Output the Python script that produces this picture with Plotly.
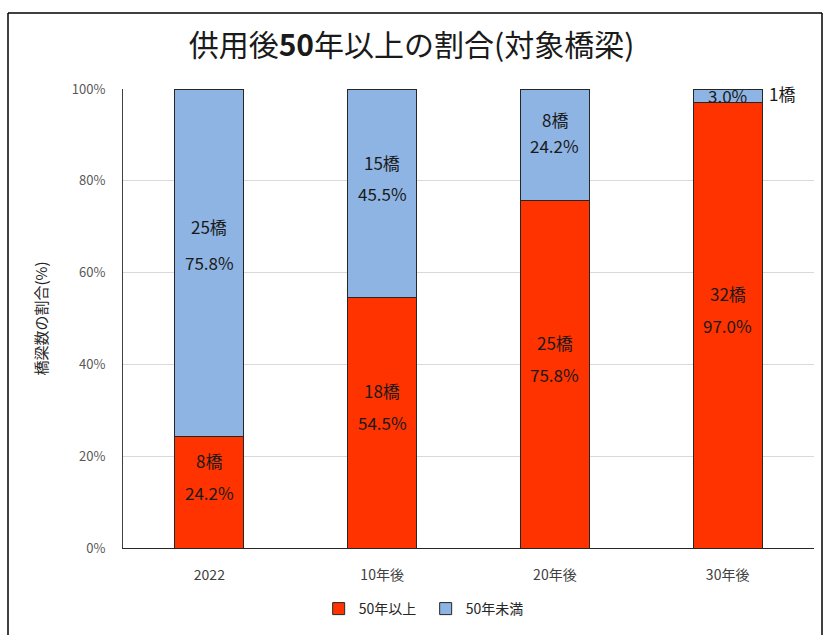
import plotly.graph_objects as go

categories = ["2022", "10年後", "20年後", "30年後"]
over50_pct = [24.2, 54.5, 75.8, 97.0]
under50_pct = [75.8, 45.5, 24.2, 3.0]
over50_cnt = [8, 18, 25, 32]
under50_cnt = [25, 15, 8, 1]
series_names = ["50年以上", "50年未満"]
yticks = [0, 20, 40, 60, 80, 100]

RED = "#FF3300"
BLUE = "#8EB4E3"
FONT = "Noto Sans CJK JP"

fig = go.Figure()
fig.add_bar(x=categories, y=over50_pct, name=series_names[0], marker_color=RED,
            marker_line_color="#262626", marker_line_width=1, width=0.4, hoverinfo="skip")
fig.add_bar(x=categories, y=under50_pct, name=series_names[1], marker_color=BLUE,
            marker_line_color="#262626", marker_line_width=1, width=0.4, hoverinfo="skip")

annotations = []
lab_font = dict(family=FONT, size=17, color="#1a1a1a")
# red segments
for i, (p, n) in enumerate(zip(over50_pct, over50_cnt)):
    ymid = p / 2
    annotations.append(dict(x=i, y=ymid, text=f"{p:.1f}%", showarrow=False, font=lab_font,
                            xref="x", yref="y"))
    annotations.append(dict(x=i, y=ymid, text=f"{n}橋", showarrow=False, font=lab_font,
                            xref="x", yref="y", yshift=32))
# blue segments
count_shift = [36, 31, 25, 0]
for i, (p, q, n) in enumerate(zip(over50_pct, under50_pct, under50_cnt)):
    ymid = p + q / 2
    annotations.append(dict(x=i, y=ymid, text=f"{q:.1f}%", showarrow=False, font=lab_font,
                            xref="x", yref="y", yshift=(-1 if i == 2 else 0)))
    if i < 3:
        annotations.append(dict(x=i, y=ymid, text=f"{n}橋", showarrow=False, font=lab_font,
                                xref="x", yref="y", yshift=count_shift[i]))
    else:
        annotations.append(dict(x=i, y=ymid, text=f"{n}橋", showarrow=False, font=lab_font,
                                xref="x", yref="y", xshift=54, yshift=2))

fig.update_layout(
    annotations=annotations,
    barmode="stack",
    width=823, height=635,
    margin=dict(l=123, r=9, t=89, b=87, autoexpand=False),
    paper_bgcolor="white", plot_bgcolor="white",
    font=dict(family=FONT, color="#404040"),
    title=dict(text="供用後<b>50</b>年以上の割合(対象橋梁)", x=0.5, xanchor="center",
               y=1 - 45 / 635, yanchor="middle",
               font=dict(family=FONT, size=30, color="#1a1a1a")),
    xaxis=dict(type="category", showline=True, linecolor="#262626", linewidth=1, ticks="",
               automargin=False, ticklabelstandoff=14,
               tickfont=dict(size=14, color="#404040", family=FONT), range=[-0.5, 3.5]),
    yaxis=dict(range=[0, 100], tickvals=yticks, ticktext=[f"{v}%" for v in yticks],
               showgrid=True, gridcolor="#D9D9D9", gridwidth=1, automargin=False,
               showline=True, linecolor="#404040", linewidth=1, zeroline=False,
               ticklabelstandoff=14,
               tickfont=dict(size=13, color="#595959", family=FONT),
               title=dict(text="橋梁数の割合(%)", font=dict(size=15, color="#262626", family=FONT),
                          standoff=20)),
    legend=dict(orientation="h", x=0.438, xanchor="center", y=(548 - 609) / 459, yanchor="middle",
                font=dict(size=14, color="#262626", family=FONT),
                traceorder="normal", entrywidth=62, entrywidthmode="pixels", itemwidth=30),
    shapes=[
        dict(type="line", xref="paper", yref="paper", x0=(8 - 123) / 691, x1=(8 - 123) / 691,
             y0=(548 - 13) / 459, y1=-0.25, line=dict(color="black", width=1.5)),
        dict(type="line", xref="paper", yref="paper", x0=(8 - 123) / 691, x1=(822 - 123) / 691,
             y0=(548 - 13) / 459, y1=(548 - 13) / 459, line=dict(color="black", width=1.5)),
        dict(type="line", xref="paper", yref="paper", x0=(822 - 123) / 691, x1=(822 - 123) / 691,
             y0=(548 - 13) / 459, y1=-0.25, line=dict(color="black", width=1.5)),
    ],
)

fig.write_html("out.html", config={"displayModeBar": False},
               post_script="document.body.style.margin='0';")
